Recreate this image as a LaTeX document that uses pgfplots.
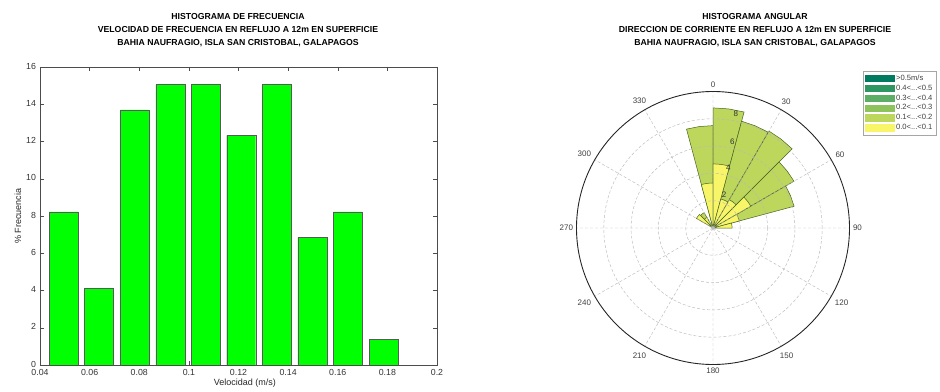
\documentclass[border=0pt]{standalone}
\usepackage{pgfplots}
\pgfplotsset{compat=1.18}
\usepgfplotslibrary{polar}
\usepackage{fontspec}
\setmainfont{Liberation Sans}
\definecolor{barg}{RGB}{0,255,0}
\definecolor{wgreen}{RGB}{189,214,92}
\definecolor{wyellow}{RGB}{248,246,104}
\definecolor{wedge}{RGB}{72,100,34}
\definecolor{lg5}{RGB}{0,122,96}
\definecolor{lg4}{RGB}{46,150,96}
\definecolor{lg3}{RGB}{92,174,100}
\definecolor{lg2}{RGB}{141,195,90}
\begin{document}
\begin{tikzpicture}
\path[use as bounding box] (0,0) rectangle (940pt,391pt);
% titles
\node[align=center, font=\fontsize{8.7}{12.8}\selectfont\bfseries] at (238pt,361pt)
 {HISTOGRAMA DE FRECUENCIA\\VELOCIDAD DE FRECUENCIA EN REFLUJO A 12m EN SUPERFICIE\\BAHIA NAUFRAGIO, ISLA SAN CRISTOBAL, GALAPAGOS};
\node[align=center, font=\fontsize{8.7}{12.8}\selectfont\bfseries] at (755pt,361pt)
 {HISTOGRAMA ANGULAR\\DIRECCION DE CORRIENTE EN REFLUJO A 12m EN SUPERFICIE\\BAHIA NAUFRAGIO, ISLA SAN CRISTOBAL, GALAPAGOS};
\begin{axis}[at={(40pt,26pt)}, anchor=south west, scale only axis,
  width=397pt, height=298pt,
  xmin=0.04, xmax=0.2, ymin=0, ymax=16,
  xtick={0.04,0.06,0.08,0.1,0.12,0.14,0.16,0.18,0.2},
  ytick={0,2,4,6,8,10,12,14,16},
  scaled x ticks=false,
  xticklabel style={/pgf/number format/fixed, /pgf/number format/precision=2, yshift=-1pt},
  yticklabel style={xshift=-0.5pt, yshift=1pt},
  /pgf/number format/assume math mode=true,
  tick align=inside, major tick length=4pt,
  tick style={black!70, line width=0.4pt},
  axis line style={black!70, line width=0.5pt},
  ticklabel style={font=\fontsize{8.8}{10}\selectfont, text=black!80},
  xlabel={Velocidad (m/s)}, ylabel={\% Frecuencia},
  label style={font=\fontsize{9}{10}\selectfont, text=black!85},
  xlabel style={at={(axis description cs:0.516,0)}, anchor=north, yshift=-10pt},
  ylabel style={at={(axis description cs:-0.0554,0.5)}, anchor=center},
]
\addplot[ybar, bar width=0.01169, fill=barg, draw=black!65, line width=0.4pt] table {
x y
0.0495 8.22
0.0638 4.11
0.0781 13.70
0.0925 15.07
0.1068 15.07
0.1211 12.33
0.1355 15.07
0.1498 6.85
0.1641 8.22
0.1785 1.37
};
\end{axis}
\begin{polaraxis}[at={(713pt,163pt)}, anchor=center, scale only axis,
  width=273pt, height=273pt,
  ymin=0, ymax=10,
  xtick={0,30,60,90,120,150,180,210,240,270,300,330},
  xticklabels={90,60,30,0,330,300,270,240,210,180,150,120},
  ytick={2,4,6,8}, yticklabels={},
  grid=major,
  major grid style={densely dashed, gray!55, line width=0.45pt},
  x axis line style={black!85, line width=0.9pt},
  y axis line style={draw=none},
  tick style={draw=none},
  xticklabel style={font=\fontsize{8}{9}\selectfont, text=black!75},
  axis on top,
  legend cell align=left,
  legend image code/.code={\draw[#1] (0pt,-3.3pt) rectangle (29pt,3.3pt);},
  legend style={at={(1,1)}, anchor=north west, xshift=13.5pt, yshift=20.5pt,
    font=\fontsize{7.6}{8}\selectfont, draw=gray!70, line width=0.4pt,
    inner sep=1.5pt, row sep=-0.9pt, text=black!75},
]
% 0.1 - 0.2 m/s (stacked total)
\addplot[fill=wgreen, draw=wedge, line width=0.5pt, forget plot] coordinates {(0,0) (90,7.5) (97.5,7.5) (105,7.5) (0,0)};
\addplot[fill=wgreen, draw=wedge, line width=0.5pt, forget plot] coordinates {(0,0) (75,8.8) (82.5,8.8) (90,8.8) (0,0)};
\addplot[fill=wgreen, draw=wedge, line width=0.5pt, forget plot] coordinates {(0,0) (60,8.1) (67.5,8.1) (75,8.1) (0,0)};
\addplot[fill=wgreen, draw=wedge, line width=0.5pt, forget plot] coordinates {(0,0) (45,8.2) (52.5,8.2) (60,8.2) (0,0)};
\addplot[fill=wgreen, draw=wedge, line width=0.5pt, forget plot] coordinates {(0,0) (30,6.85) (37.5,6.85) (45,6.85) (0,0)};
\addplot[fill=wgreen, draw=wedge, line width=0.5pt, forget plot] coordinates {(0,0) (15,6.15) (22.5,6.15) (30,6.15) (0,0)};
\addplot[fill=wgreen, draw=wedge, line width=0.5pt, forget plot] coordinates {(0,0) (120,1.3) (127.5,1.3) (135,1.3) (0,0)};
% 0.0 - 0.1 m/s
\addplot[fill=wyellow, draw=wedge, line width=0.5pt, forget plot] coordinates {(0,0) (90,3.3) (97.5,3.3) (105,3.3) (0,0)};
\addplot[fill=wyellow, draw=wedge, line width=0.5pt, forget plot] coordinates {(0,0) (75,4.7) (82.5,4.7) (90,4.7) (0,0)};
\addplot[fill=wyellow, draw=wedge, line width=0.5pt, forget plot] coordinates {(0,0) (60,2.2) (67.5,2.2) (75,2.2) (0,0)};
\addplot[fill=wyellow, draw=wedge, line width=0.5pt, forget plot] coordinates {(0,0) (45,2.4) (52.5,2.4) (60,2.4) (0,0)};
\addplot[fill=wyellow, draw=wedge, line width=0.5pt, forget plot] coordinates {(0,0) (30,3.2) (37.5,3.2) (45,3.2) (0,0)};
\addplot[fill=wyellow, draw=wedge, line width=0.5pt, forget plot] coordinates {(0,0) (15,2.0) (22.5,2.0) (30,2.0) (0,0)};
\addplot[fill=wyellow, draw=wedge, line width=0.5pt, forget plot] coordinates {(0,0) (0,1.4) (7.5,1.4) (15,1.4) (0,0)};
\addplot[fill=wyellow, draw=wedge, line width=0.5pt, forget plot] coordinates {(0,0) (120,0.9) (127.5,0.9) (135,0.9) (0,0)};
\addplot[fill=wyellow, draw=wedge, line width=0.5pt, forget plot] coordinates {(0,0) (135,1.4) (142.5,1.4) (150,1.4) (0,0)};
% radial labels
\node[font=\fontsize{8}{9}\selectfont, text=black!80] at (axis cs:71.6,2.55) {2};
\node[font=\fontsize{8}{9}\selectfont, text=black!80] at (axis cs:75.6,4.52) {4};
\node[font=\fontsize{8}{9}\selectfont, text=black!80] at (axis cs:77.4,6.48) {6};
\node[font=\fontsize{8}{9}\selectfont, text=black!80] at (axis cs:78.8,8.57) {8};
\node[font=\fontsize{8}{9}\selectfont, text=black!75] at (axis cs:78,10.46) {10};
% legend
\addlegendimage{fill=lg5, draw=lg5}
\addlegendentry{>0.5m/s}
\addlegendimage{fill=lg4, draw=lg4}
\addlegendentry{0.4<...<0.5}
\addlegendimage{fill=lg3, draw=lg3}
\addlegendentry{0.3<...<0.4}
\addlegendimage{fill=lg2, draw=lg2}
\addlegendentry{0.2<...<0.3}
\addlegendimage{fill=wgreen, draw=wgreen}
\addlegendentry{0.1<...<0.2}
\addlegendimage{fill=wyellow, draw=wyellow}
\addlegendentry{0.0<...<0.1}
\end{polaraxis}
\end{tikzpicture}
\end{document}
